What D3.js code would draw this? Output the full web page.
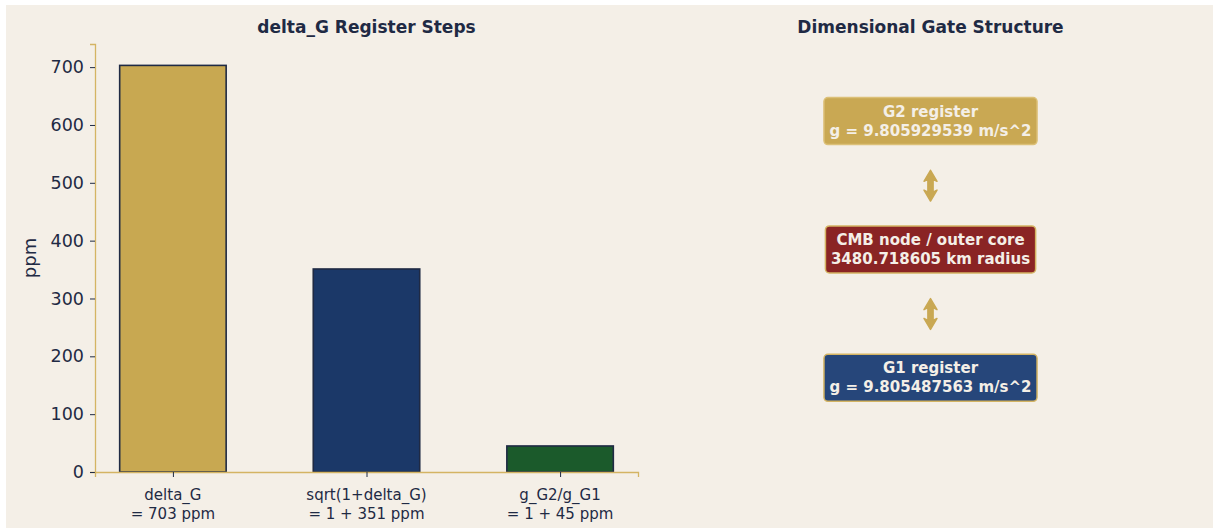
<!DOCTYPE html>
<html>
<head>
<meta charset="utf-8">
<script src="https://cdn.jsdelivr.net/npm/d3@7"></script>
<style>
  body { margin: 0; background: #ffffff; }
  svg text { font-family: "DejaVu Sans", sans-serif; }
</style>
</head>
<body>
<div id="chart-container"></div>
<script>
   // bar panel data
   const categories = ["delta_G\n= 703 ppm", "sqrt(1+delta_G)\n= 1 + 351 ppm", "g_G2/g_G1\n= 1 + 45 ppm"];
   const values = [703, 351, 45];
   const barColors = ["#c8a851", "#1b3868", "#1b5a2b"];
   const yTicks = [0, 100, 200, 300, 400, 500, 600, 700];

   // gate diagram data
   const nodeLabels = [
       ["G2 register", "g = 9.805929539 m/s^2"],
       ["CMB node / outer core", "3480.718605 km radius"],
       ["G1 register", "g = 9.805487563 m/s^2"]
   ];
   const nodeFills = ["#c9a853", "#8a2424", "#26467a"];
   const nodeY = [0.82, 0.52, 0.22];
   const arrowSpans = [[0.705, 0.633], [0.405, 0.333]];

   const ink = "#1f2a44";
   const gold = "#d4b463";
   const cream = "#f4efe7";

   const svg = d3.select("#chart-container")
       .append("svg")
       .attr("width", 1213)
       .attr("height", 531);

   svg.append("rect")
       .attr("x", 6).attr("y", 5)
       .attr("width", 1207).attr("height", 523)
       .attr("fill", cream);

   // ---- left: bar chart ----
   const left = { x0: 95, x1: 638, y0: 44, y1: 472 };

   const x = d3.scaleLinear()
       .domain([-0.4025, 2.4025])
       .range([left.x0, left.x1]);

   const y = d3.scaleLinear()
       .domain([0, 740])
       .range([left.y1, left.y0]);

   const g = svg.append("g");

   g.selectAll("rect.bar")
       .data(values)
       .join("rect")
       .attr("class", "bar")
       .attr("x", (d, i) => x(i - 0.275))
       .attr("width", x(0.55) - x(0))
       .attr("y", d => y(d))
       .attr("height", d => y(0) - y(d))
       .attr("fill", (d, i) => barColors[i])
       .attr("stroke", ink)
       .attr("stroke-width", 1.6);

   const yAxis = g.append("g")
       .attr("transform", `translate(${left.x0},0)`)
       .call(d3.axisLeft(y).tickValues(yTicks).tickSize(5).tickPadding(6));
   yAxis.select(".domain").attr("stroke", gold).attr("stroke-width", 1.3);
   yAxis.selectAll(".tick line").attr("stroke", ink);
   yAxis.selectAll(".tick text")
       .attr("fill", ink)
       .attr("font-size", 17.5)
       .style("font-family", "DejaVu Sans");

   const xAxis = g.append("g")
       .attr("transform", `translate(0,${left.y1})`)
       .call(d3.axisBottom(x).tickValues([0, 1, 2]).tickSize(5).tickFormat(""));
   xAxis.select(".domain").attr("stroke", gold).attr("stroke-width", 1.3);
   xAxis.selectAll(".tick line").attr("stroke", ink);

   // multi-line category labels
   g.selectAll("text.cat")
       .data(categories)
       .join("text")
       .attr("class", "cat")
       .attr("x", (d, i) => x(i))
       .attr("y", left.y1 + 28)
       .attr("text-anchor", "middle")
       .attr("fill", ink)
       .attr("font-size", 15)
       .selectAll("tspan")
       .data(d => d.split("\n"))
       .join("tspan")
       .attr("x", function () { return d3.select(this.parentNode).attr("x"); })
       .attr("dy", (d, i) => i === 0 ? 0 : 19)
       .text(d => d);

   g.append("text")
       .attr("transform", `translate(36,${(left.y0 + left.y1) / 2}) rotate(-90)`)
       .attr("text-anchor", "middle")
       .attr("fill", ink)
       .attr("font-size", 18)
       .text("ppm");

   g.append("text")
       .attr("x", (left.x0 + left.x1) / 2)
       .attr("y", 33)
       .attr("text-anchor", "middle")
       .attr("fill", ink)
       .attr("font-size", 17)
       .attr("font-weight", "bold")
       .text("delta_G Register Steps");

   // ---- right: gate structure ----
   const right = { x0: 680, x1: 1182, y0: 44, y1: 472 };
   const ry = d3.scaleLinear().domain([0, 1]).range([right.y1, right.y0]);
   const cx = 930.5;

   svg.append("text")
       .attr("x", cx)
       .attr("y", 33)
       .attr("text-anchor", "middle")
       .attr("fill", ink)
       .attr("font-size", 17)
       .attr("font-weight", "bold")
       .text("Dimensional Gate Structure");

   const nodes = svg.append("g").selectAll("g")
       .data(nodeLabels)
       .join("g")
       .attr("transform", (d, i) => `translate(${cx},${ry(nodeY[i])})`);

   nodes.each(function (d, i) {
       const node = d3.select(this);
       const t = node.append("text")
           .attr("text-anchor", "middle")
           .attr("fill", "#f4efe7")
           .attr("font-size", 15)
           .attr("font-weight", "bold");
       t.selectAll("tspan")
           .data(d)
           .join("tspan")
           .attr("x", 0)
           .attr("y", (s, j) => j === 0 ? -4.5 : 14.5)
           .text(s => s);
       const bb = t.node().getBBox();
       node.insert("rect", "text")
           .attr("x", bb.x - 5.5)
           .attr("y", -23.5)
           .attr("width", bb.width + 11)
           .attr("height", 47)
           .attr("rx", 4)
           .attr("fill", nodeFills[i])
           .attr("stroke", i === 0 ? "#dcc077" : gold)
           .attr("stroke-width", 1.5);
   });

   // double-headed arrows
   const arrowColor = "#c9a853";
   svg.append("g").selectAll("path")
       .data(arrowSpans)
       .join("path")
       .attr("d", d => {
           const top = ry(d[0]), bot = ry(d[1]);
           const hw = 6.5, hl = 11, sw = 2.6;
           return `M${cx},${top} L${cx + hw},${top + hl} L${cx + sw},${top + hl - 2}
                   L${cx + sw},${bot - hl + 2} L${cx + hw},${bot - hl} L${cx},${bot}
                   L${cx - hw},${bot - hl} L${cx - sw},${bot - hl + 2}
                   L${cx - sw},${top + hl - 2} L${cx - hw},${top + hl} Z`;
       })
       .attr("fill", arrowColor)
       .attr("stroke", arrowColor)
       .attr("stroke-width", 1.5)
       .attr("stroke-linejoin", "round");
</script>
</body>
</html>
